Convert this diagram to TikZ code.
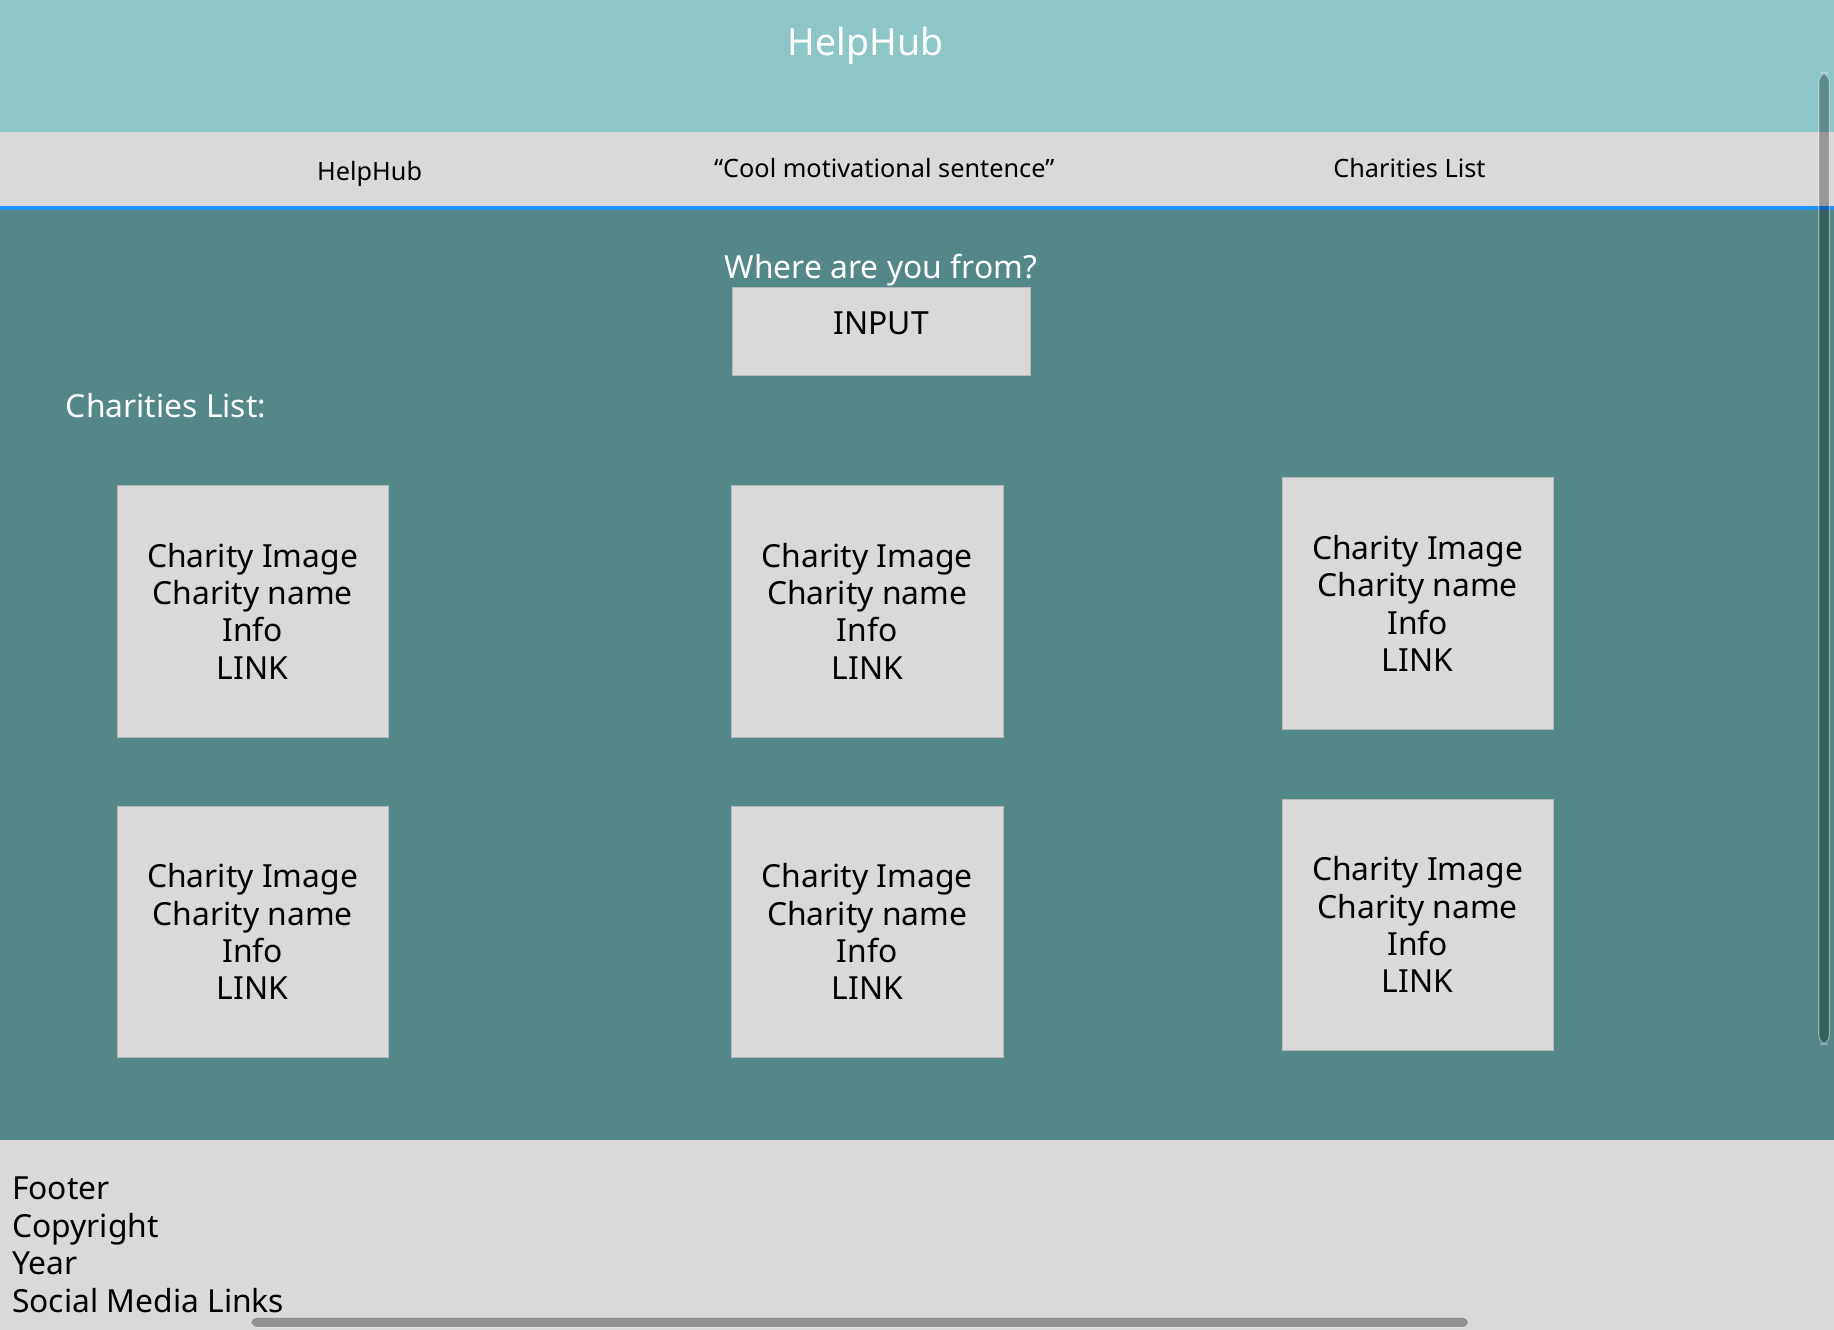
\documentclass[tikz,border=0pt]{standalone}
\usepackage{fontspec}
\setmainfont{Noto Sans}
\usepackage{xcolor}
\definecolor{headteal}{HTML}{8CC6C7}
\definecolor{panelgray}{HTML}{D9D9D9}
\definecolor{darkteal}{HTML}{548787}
\definecolor{navblue}{HTML}{1E90FF}
\definecolor{barsgray}{HTML}{939393}

\begin{document}
\begin{tikzpicture}[x=0.5pt,y=-0.5pt,
	card/.style={fill=panelgray, draw=panelgray!85!black, line width=0.3pt, minimum width=116pt, minimum height=107.5pt, inner sep=0pt, align=center, font=\fontsize{13.6}{16}\selectfont},
	navtext/.style={font=\fontsize{10.8}{12}\selectfont, text=black},
	whitetext/.style={font=\fontsize{13.6}{16}\selectfont, text=white}]
	\useasboundingbox (0,0) rectangle (1568,1137);
	% bands
	\fill [headteal] (0,0) rectangle (1568,113);
	\fill [panelgray] (0,113) rectangle (1568,176);
	\fill [navblue] (0,176) rectangle (1568,179.5);
	\fill [darkteal] (0,179.5) rectangle (1568,975);
	\fill [panelgray] (0,975) rectangle (1568,1137);
	% header
	\node (title) [font=\fontsize{16}{19}\selectfont, text=white] at (740,39) {HelpHub};
	\node (navhome) [navtext] at (316,149) {HelpHub};
	\node (navquote) [navtext] at (756,144) {“Cool motivational sentence”};
	\node (navlist) [navtext] at (1205,144) {Charities List};
	% search
	\node (question) [whitetext] at (753,231) {Where are you from?};
	\node (inputbox) [fill=panelgray, draw=panelgray!85!black, line width=0.3pt, minimum width=127.5pt, minimum height=37.5pt, inner sep=0pt] at (753.5,283.5) {};
	\node (inputtext) [font=\fontsize{13.6}{16}\selectfont] at (753.5,276) {INPUT};
	\node (listtitle) [whitetext, anchor=west, inner sep=0pt] at (56,347) {Charities List:};
	% cards
	\node (card1) [card] at (216,522.5) {Charity Image\\Charity name\\Info\\LINK};
	\node (card2) [card] at (741.5,522.5) {Charity Image\\Charity name\\Info\\LINK};
	\node (card3) [card] at (1212,516) {Charity Image\\Charity name\\Info\\LINK};
	\node (card4) [card] at (216,796.5) {Charity Image\\Charity name\\Info\\LINK};
	\node (card5) [card] at (741.5,796.5) {Charity Image\\Charity name\\Info\\LINK};
	\node (card6) [card] at (1212,790.5) {Charity Image\\Charity name\\Info\\LINK};
	% footer
	\node (footer) [anchor=north west, inner sep=0pt, align=left, font=\fontsize{13.6}{16}\selectfont] at (10,1006) {Footer\\Copyright\\Year\\Social Media Links};
	% scrollbars
	\fill [barsgray, draw=white!90!black, line width=0.4pt, rounded corners=3pt] (214,1126) rectangle (1256,1135);
	\fill [black, fill opacity=0.3, draw=white, draw opacity=0.4, line width=0.5pt, rounded corners=4pt] (1555,62) rectangle (1564,893);
\end{tikzpicture}
\end{document}
